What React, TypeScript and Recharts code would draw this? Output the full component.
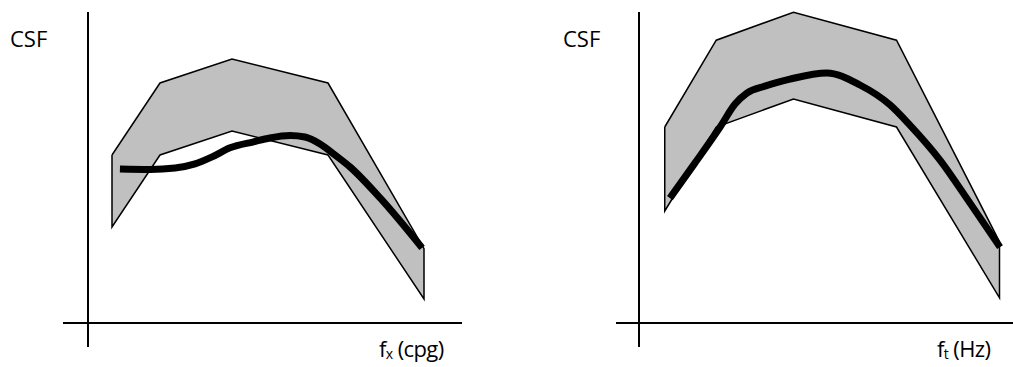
import React from 'react';
import { ComposedChart, XAxis, YAxis, Area, Line, ReferenceLine } from 'recharts';

// band corners share the same frequency positions in both panels
const bandFreq = [1, 3, 6, 10, 14];
const spatialUpper = [7, 10, 11, 10, 3.1];
const spatialLower = [4, 7, 8, 7, 1];
const temporalUpper = [7, 10.1, 11.1, 10.1, 2.9];
const temporalLower = [4, 7, 8, 7, 0.9];

// thick measured curve
const spatialCurveFreq = [1.33, 2.58, 3.63, 4.46, 5.17, 5.92, 6.9, 7.58, 8.42, 9.04, 9.67, 10.29, 10.92, 12.17, 13.92];
const spatialCurveCsf = [6.42, 6.4, 6.46, 6.63, 6.92, 7.3, 7.55, 7.71, 7.81, 7.75, 7.46, 7.0, 6.5, 5.21, 3.13];
const temporalCurveFreq = [1.2, 2.17, 3.15, 3.73, 4.19, 4.89, 5.86, 7.3, 8.58, 9.75, 10.52, 11.69, 12.85, 14.02];
const temporalCurveCsf = [4.46, 5.71, 7.0, 7.82, 8.21, 8.46, 8.71, 8.93, 8.5, 7.79, 7.07, 5.82, 4.29, 2.71];

interface PanelProps {
    left: number;
    width: number;
    marginLeft: number;
    xDomain: [number, number];
    yDomain: [number, number];
    upper: number[];
    lower: number[];
    curveX: number[];
    curveY: number[];
}

const makeBand = (upper: number[], lower: number[]) =>
    bandFreq.map((x, i) => ({ x, range: [lower[i], upper[i]] }));

// outline goes round the band: top edge, right side, bottom edge back, left side
const makeOutline = (upper: number[], lower: number[]) => {
    const top = bandFreq.map((x, i) => ({ x, y: upper[i] }));
    const bottom = bandFreq.map((x, i) => ({ x, y: lower[i] })).reverse();
    return [...top, ...bottom, top[0]];
};

function Panel({ left, width, marginLeft, xDomain, yDomain, upper, lower, curveX, curveY }: PanelProps) {
    const band = makeBand(upper, lower);
    const outline = makeOutline(upper, lower);
    const curve = curveX.map((x, i) => ({ x, y: curveY[i] }));
    return (
        <div style={{ position: 'absolute', left, top: 0 }}>
            <ComposedChart width={width} height={367} margin={{ top: 12, right: 0, bottom: 20, left: marginLeft }}>
                <XAxis dataKey="x" type="number" domain={xDomain} hide />
                <YAxis type="number" domain={yDomain} hide />
                <Area data={band} dataKey="range" type="linear" fill="#c0c0c0" fillOpacity={1} stroke="none" isAnimationActive={false} />
                <Line data={outline} dataKey="y" type="linear" stroke="#000" strokeWidth={1.5} dot={false} isAnimationActive={false} />
                <Line data={curve} dataKey="y" type="monotone" stroke="#000" strokeWidth={7} strokeLinecap="butt" dot={false} isAnimationActive={false} />
                <ReferenceLine x={0} stroke="#000" strokeWidth={2} />
                <ReferenceLine y={0} stroke="#000" strokeWidth={2} />
            </ComposedChart>
        </div>
    );
}

export default function App() {
    const font = { fontFamily: '"Open Sans", sans-serif', fontSize: 22, fill: '#000' };
    const axisFont = { ...font, letterSpacing: -0.6 };
    return (
        <div style={{ position: 'absolute', left: 0, top: 0, width: 1013, height: 367, background: '#fff' }}>
            <Panel
                left={0}
                width={462}
                marginLeft={63}
                xDomain={[-25 / 24, 374 / 24]}
                yDomain={[-1, 311 / 24]}
                upper={spatialUpper}
                lower={spatialLower}
                curveX={spatialCurveFreq}
                curveY={spatialCurveCsf}
            />
            <Panel
                left={560}
                width={453}
                marginLeft={56}
                xDomain={[-23 / 25.75, 374 / 25.75]}
                yDomain={[-24 / 28, 311 / 28]}
                upper={temporalUpper}
                lower={temporalLower}
                curveX={temporalCurveFreq}
                curveY={temporalCurveCsf}
            />
            <svg width={1013} height={367} style={{ position: 'absolute', left: 0, top: 0, pointerEvents: 'none' }}>
                <text x={10} y={47} style={font}>CSF</text>
                <text x={563} y={47} style={font}>CSF</text>
                <text x={379} y={357} style={axisFont}>
                    f<tspan fontSize={14} dy={2}>x</tspan>
                    <tspan dy={-2}> (cpg)</tspan>
                </text>
                <text x={937} y={357} style={axisFont}>
                    f<tspan fontSize={14} dy={2}>t</tspan>
                    <tspan dy={-2}> (Hz)</tspan>
                </text>
            </svg>
        </div>
    );
}
